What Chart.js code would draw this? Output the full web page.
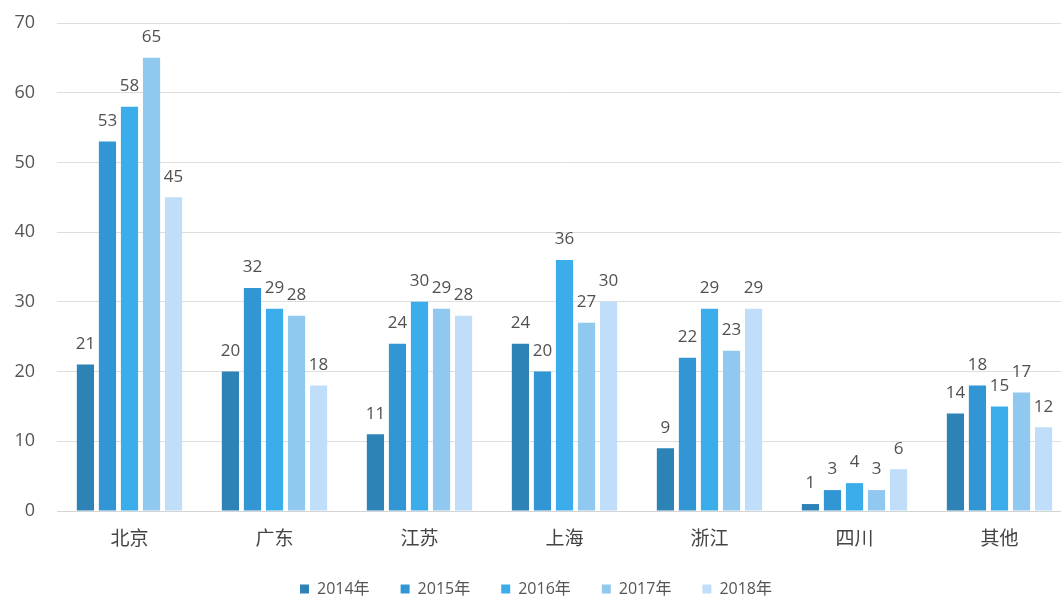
<!DOCTYPE html>
<html>
<head>
<meta charset="utf-8">
<script src="https://cdn.jsdelivr.net/npm/chart.js@4/dist/chart.umd.min.js"></script>
<style>
  html, body { margin: 0; padding: 0; background: #fff; overflow: hidden; }
  #wrap { width: 1075px; height: 607px; }
</style>
</head>
<body>
<div id="wrap"><canvas id="chart"></canvas></div>
<script>
const regions = ["北京", "广东", "江苏", "上海", "浙江", "四川", "其他"];
const years = ["2014年", "2015年", "2016年", "2017年", "2018年"];
const v2014 = [21, 20, 11, 24, 9, 1, 14];
const v2015 = [53, 32, 24, 20, 22, 3, 18];
const v2016 = [58, 29, 30, 36, 29, 4, 15];
const v2017 = [65, 28, 29, 27, 23, 3, 17];
const v2018 = [45, 18, 28, 30, 29, 6, 12];
const yTicks = [0, 10, 20, 30, 40, 50, 60, 70];

const colors = ["#2d83b5", "#3296d4", "#3badeb", "#91c8f0", "#c0defa"];
const font = "'Open Sans', 'Noto Sans CJK SC', sans-serif";

// draw the value above each bar
const barLabels = {
  id: "barLabels",
  afterDatasetsDraw(chart) {
    const ctx = chart.ctx;
    ctx.save();
    ctx.font = "17px " + font;
    ctx.fillStyle = "#505050";
    ctx.textAlign = "center";
    ctx.textBaseline = "bottom";
    chart.data.datasets.forEach((ds, i) => {
      chart.getDatasetMeta(i).data.forEach((bar, j) => {
        ctx.fillText(ds.data[j], bar.x, bar.y - 12);
      });
    });
    ctx.restore();
  }
};

const series = [v2014, v2015, v2016, v2017, v2018];

new Chart(document.getElementById("chart"), {
  type: "bar",
  data: {
    labels: regions,
    datasets: series.map((d, i) => ({
      label: years[i],
      data: d,
      backgroundColor: colors[i],
      categoryPercentage: 0.76,
      barPercentage: 0.78
    }))
  },
  options: {
    responsive: true,
    maintainAspectRatio: false,
    animation: false,
    layout: { padding: { top: 23, right: 3, left: 0, bottom: 0 } },
    plugins: {
      legend: {
        position: "bottom",
        labels: {
          font: { size: 16, family: font },
          color: "#555",
          boxWidth: 9,
          boxHeight: 9,
          padding: 31
        }
      },
      tooltip: { enabled: false }
    },
    scales: {
      x: {
        grid: { display: false, drawTicks: false },
        border: { color: "#d4d4d4" },
        ticks: { font: { size: 19, family: font }, color: "#444", padding: 17 },
        afterFit(s) { s.height = 39; }
      },
      y: {
        min: 0,
        max: 70,
        afterBuildTicks(s) { s.ticks = yTicks.map(v => ({ value: v })); },
        grid: { color: "#dedede", drawTicks: false },
        border: { display: false },
        ticks: { font: { size: 18, family: font }, color: "#555", padding: 22 },
        afterFit(s) {
          s.width = 57;
          s.paddingTop = 0;
          s.paddingBottom = 0;
        }
      }
    }
  },
  plugins: [barLabels]
});
</script>
</body>
</html>
